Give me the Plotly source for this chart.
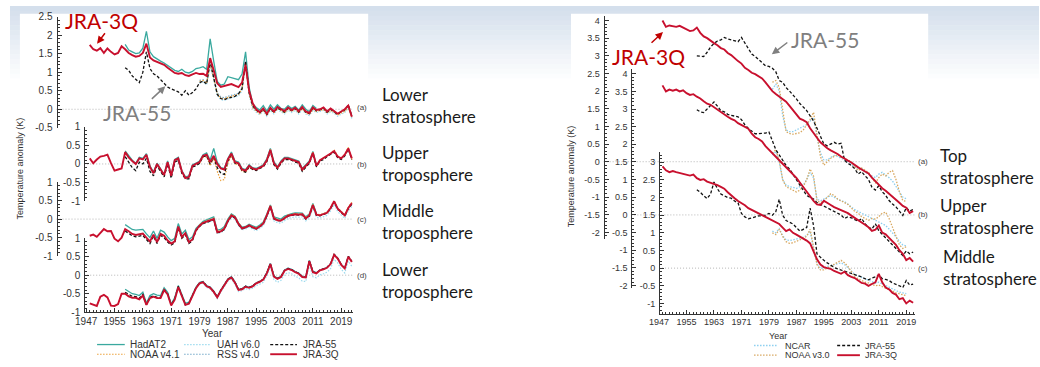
import plotly.graph_objects as go

W, H = 1040, 367
def px(x): return x / W
def py(y): return 1 - y / H

# ---------------- DATA (left figure: MSU-type layers) ----------------
# (a) Lower stratosphere
L_A_3Q_START = 1948
L_A_3Q = [1.74, 1.62, 1.58, 1.65, 1.52, 1.64, 1.55, 1.48, 1.52, 1.70, 1.62, 1.52, 1.46, 1.42, 1.44, 1.52, 1.77, 1.40, 1.32, 1.28,
          1.25, 1.20, 1.12, 1.05, 0.98, 0.96, 0.98, 0.92, 0.90, 0.94, 0.98, 0.95, 0.96, 0.90, 1.38, 1.05, 0.70, 0.60, 0.62, 0.64,
          0.68, 0.64, 0.60, 0.72, 1.20, 0.50, 0.16, 0.00, -0.08, 0.02, -0.12, 0.04, -0.06, 0.06, 0.00, -0.05, 0.05, -0.02, 0.04, -0.05,
          0.06, -0.06, -0.10, 0.05, -0.02, 0.00, 0.05, -0.06, 0.02, -0.04, -0.12, -0.06, 0.00, 0.10, -0.20]
L_A_55_START = 1958
L_A_55 = [1.12, 1.05, 0.90, 0.80, 0.72, 1.00, 1.55, 1.10, 0.96, 0.90, 0.80, 0.68, 0.60, 0.55, 0.51, 0.47, 0.38, 0.50, 0.38, 0.45,
          0.55, 0.72, 0.76, 0.68, 1.30, 0.80, 0.40, 0.29, 0.26, 0.30, 0.33, 0.35, 0.42, 0.55, 1.30, 0.45, 0.10, -0.02, -0.10, 0.00,
          -0.14, 0.02, -0.08, 0.04, -0.02, -0.08, 0.03, -0.04, 0.02, -0.08, 0.04, -0.08, -0.12, 0.03, -0.04, -0.02, 0.03, -0.08, 0.00, -0.06,
          -0.14, -0.06, -0.02, 0.12, -0.18]
L_A_HAD_START = 1958
L_A_HAD = [1.75, 1.60, 1.55, 1.50, 1.52, 1.65, 2.10, 1.55, 1.42, 1.35, 1.30, 1.25, 1.18, 1.12, 1.05, 1.02, 1.08, 1.00, 0.98, 1.02,
           1.10, 1.12, 1.15, 1.08, 1.90, 1.30, 0.75, 0.65, 0.68, 0.88, 0.85, 0.82, 0.80, 0.95, 1.55, 0.60, 0.15, 0.05, -0.02, 0.10,
           -0.05, 0.12, 0.00, 0.12, 0.02, 0.00, 0.10, 0.02, 0.08, -0.02, 0.12, 0.00, -0.06, 0.10, 0.02]
L_A_SAT_START = 1979
L_A_NOAA = [0.75, 0.78, 0.70, 1.20, 0.85, 0.42, 0.30, 0.28, 0.32, 0.35, 0.36, 0.40, 0.55, 1.25, 0.42, 0.05, -0.05, -0.12, -0.02, -0.16,
            0.00, -0.10, 0.02, -0.04, -0.10, 0.00, -0.06, 0.00, -0.10, 0.02, -0.10, -0.14, 0.00, -0.06, -0.04, 0.00, -0.10, -0.04, -0.08, -0.16,
            -0.10, -0.06, 0.06, -0.22]
L_A_UAH = [0.70, 0.74, 0.66, 1.15, 0.80, 0.38, 0.26, 0.24, 0.28, 0.31, 0.32, 0.36, 0.50, 1.20, 0.38, 0.02, -0.08, -0.15, -0.05, -0.19,
           -0.03, -0.13, -0.01, -0.07, -0.13, -0.03, -0.09, -0.03, -0.13, -0.01, -0.13, -0.17, -0.03, -0.09, -0.07, -0.03, -0.13, -0.07, -0.11, -0.19,
           -0.13, -0.09, 0.03, -0.25]
L_A_RSS = [0.78, 0.80, 0.72, 1.25, 0.88, 0.45, 0.33, 0.31, 0.35, 0.38, 0.39, 0.43, 0.58, 1.30, 0.46, 0.08, -0.02, -0.09, 0.01, -0.13,
           0.03, -0.07, 0.05, -0.01, -0.07, 0.03, -0.03, 0.03, -0.07, 0.05, -0.07, -0.11, 0.03, -0.03, -0.01, 0.03, -0.07, -0.01, -0.05, -0.13,
           -0.07, -0.03, 0.09, -0.19]

# (b) Upper troposphere
L_B_3Q = [0.15, 0.02, 0.12, 0.20, 0.22, 0.25, 0.02, -0.18, -0.15, -0.12, 0.32, 0.18, 0.08, 0.00, 0.15, 0.12, 0.25, -0.08, -0.25, 0.00,
          -0.15, -0.30, 0.05, -0.32, 0.10, 0.15, -0.20, -0.38, -0.35, -0.05, 0.00, 0.05, 0.22, 0.25, 0.05, 0.22, 0.00, -0.12, -0.15, 0.12,
          0.28, 0.05, 0.02, -0.15, -0.18, -0.05, -0.12, -0.15, -0.10, -0.05, 0.10, 0.38, 0.02, -0.10, 0.05, 0.15, 0.15, 0.12, 0.08, 0.05,
          -0.15, -0.05, 0.05, 0.30, -0.05, 0.10, 0.15, 0.22, 0.28, 0.35, 0.20, 0.15, 0.25, 0.42, 0.15]
L_B_55 = [0.20, 0.05, -0.10, -0.18, 0.05, 0.00, 0.15, -0.20, -0.32, -0.05, -0.22, -0.35, 0.00, -0.38, 0.05, 0.10, -0.25, -0.40, -0.40, -0.08,
          -0.05, 0.02, 0.20, 0.22, 0.00, 0.18, -0.10, -0.25, -0.28, 0.08, 0.25, 0.02, 0.00, -0.18, -0.22, -0.08, -0.15, -0.18, -0.12, -0.08,
          0.06, 0.35, -0.02, -0.14, 0.02, 0.12, 0.12, 0.10, 0.05, 0.02, -0.20, -0.08, 0.02, 0.28, -0.08, 0.08, 0.12, 0.20, 0.25, 0.32,
          0.17, 0.12, 0.22, 0.40, 0.12]
L_B_HAD = [0.35, 0.22, 0.10, 0.02, 0.18, 0.15, 0.28, -0.05, -0.22, 0.02, -0.12, -0.28, 0.08, -0.30, 0.12, 0.18, -0.18, -0.35, -0.32, -0.02,
           0.02, 0.08, 0.25, 0.30, 0.10, 0.42, 0.05, -0.10, -0.12, 0.15, 0.32, 0.08, 0.05, -0.12, -0.15, -0.02, -0.10, -0.12, -0.08, -0.02,
           0.14, 0.42, 0.06, -0.08, 0.08, 0.18, 0.18, 0.15, 0.10, 0.08, -0.12, -0.02, 0.08, 0.34, -0.02]
L_B_NOAA = [0.02, 0.18, 0.20, -0.05, 0.15, -0.20, -0.45, -0.42, 0.02, 0.22, 0.00, -0.02, -0.20, -0.22, -0.10, -0.15, -0.15, -0.12, -0.05, 0.10,
            0.40, 0.00, -0.12, 0.04, 0.14, 0.15, 0.12, 0.08, 0.05, -0.18, -0.05, 0.05, 0.32, -0.05, 0.10, 0.15, 0.22, 0.28, 0.38, 0.22,
            0.15, 0.26, 0.45, 0.12]

# (c) Middle troposphere
L_C_3Q = [-0.45, -0.42, -0.48, -0.36, -0.27, -0.33, -0.32, -0.53, -0.60, -0.50, -0.27, -0.33, -0.40, -0.43, -0.40, -0.39, -0.50, -0.60, -0.42, -0.62,
          -0.40, -0.45, -0.58, -0.66, -0.60, -0.20, -0.48, -0.38, -0.62, -0.55, -0.30, -0.18, -0.10, -0.06, -0.03, 0.00, -0.35, -0.33, -0.26, -0.05,
          0.10, 0.05, -0.13, -0.25, -0.22, -0.17, -0.22, -0.26, -0.20, -0.12, 0.10, 0.35, 0.02, -0.03, -0.04, 0.03, 0.09, 0.11, 0.13, 0.12,
          0.13, 0.02, 0.10, 0.38, 0.12, 0.10, 0.13, 0.17, 0.30, 0.48, 0.28, 0.20, 0.10, 0.30, 0.43]
L_C_55 = [-0.32, -0.38, -0.45, -0.48, -0.45, -0.44, -0.55, -0.66, -0.46, -0.66, -0.44, -0.50, -0.62, -0.70, -0.64, -0.24, -0.52, -0.42, -0.66, -0.58,
          -0.32, -0.20, -0.12, -0.08, -0.06, -0.02, -0.37, -0.35, -0.28, -0.06, 0.08, 0.03, -0.15, -0.26, -0.23, -0.18, -0.23, -0.27, -0.21, -0.13,
          0.08, 0.33, 0.00, -0.04, -0.05, 0.02, 0.08, 0.10, 0.12, 0.11, 0.12, 0.00, 0.08, 0.36, 0.10, 0.09, 0.12, 0.16, 0.28, 0.46,
          0.27, 0.19, 0.09, 0.28, 0.40]
L_C_HAD = [-0.15, -0.22, -0.28, -0.30, -0.28, -0.28, -0.40, -0.50, -0.32, -0.52, -0.30, -0.35, -0.48, -0.58, -0.52, -0.12, -0.40, -0.30, -0.55, -0.48,
           -0.25, -0.14, -0.06, -0.02, 0.02, 0.06, -0.30, -0.28, -0.20, 0.00, 0.14, 0.08, -0.10, -0.22, -0.20, -0.14, -0.18, -0.22, -0.16, -0.08,
           0.14, 0.38, 0.06, 0.02, 0.00, 0.08, 0.12, 0.15, 0.17, 0.16, 0.16, 0.06, 0.14, 0.42, 0.16]
L_C_NOAA = [-0.16, -0.08, -0.04, -0.02, 0.02, -0.33, -0.31, -0.24, -0.03, 0.12, 0.07, -0.11, -0.23, -0.22, -0.16, -0.21, -0.24, -0.18, -0.10, 0.12,
            0.37, 0.04, -0.01, -0.02, 0.05, 0.11, 0.13, 0.15, 0.14, 0.15, 0.04, 0.12, 0.40, 0.14, 0.12, 0.15, 0.19, 0.32, 0.50, 0.30,
            0.22, 0.12, 0.32, 0.45]
L_C_UAH = [-0.20, -0.13, -0.09, -0.07, -0.04, -0.38, -0.37, -0.30, -0.09, 0.05, 0.00, -0.18, -0.29, -0.27, -0.22, -0.27, -0.31, -0.25, -0.18, 0.04,
           0.28, -0.05, -0.10, -0.11, -0.04, 0.02, 0.04, 0.06, 0.05, 0.06, -0.05, 0.03, 0.31, 0.05, 0.03, 0.06, 0.10, 0.22, 0.40, 0.20,
           0.12, 0.02, 0.22, 0.34]
L_C_RSS = [-0.18, -0.11, -0.07, -0.04, -0.01, -0.36, -0.34, -0.27, -0.06, 0.09, 0.04, -0.14, -0.26, -0.24, -0.18, -0.23, -0.26, -0.20, -0.12, 0.10,
           0.34, 0.02, -0.02, -0.03, 0.04, 0.10, 0.12, 0.14, 0.13, 0.14, 0.03, 0.11, 0.39, 0.13, 0.11, 0.14, 0.18, 0.31, 0.49, 0.29,
           0.21, 0.11, 0.31, 0.44]

# (d) Lower troposphere
L_D_3Q = [-0.76, -0.80, -0.83, -0.58, -0.53, -0.60, -0.82, -0.83, -0.78, -0.50, -0.50, -0.57, -0.61, -0.61, -0.65, -0.55, -0.80, -0.62, -0.58, -0.62,
          -0.62, -0.40, -0.52, -0.82, -0.66, -0.32, -0.55, -0.80, -0.77, -0.56, -0.35, -0.22, -0.19, -0.30, -0.34, -0.45, -0.60, -0.42, -0.25, -0.12,
          -0.06, -0.20, -0.40, -0.38, -0.31, -0.34, -0.30, -0.22, -0.18, -0.12, 0.05, 0.30, -0.04, -0.10, -0.05, 0.12, 0.17, 0.14, 0.08, 0.04,
          -0.05, -0.06, 0.38, 0.08, 0.05, 0.13, 0.16, 0.20, 0.30, 0.55, 0.45, 0.28, 0.18, 0.50, 0.36]
L_D_55 = [-0.46, -0.52, -0.57, -0.58, -0.62, -0.52, -0.80, -0.60, -0.56, -0.60, -0.60, -0.38, -0.50, -0.80, -0.64, -0.30, -0.53, -0.80, -0.76, -0.55,
          -0.34, -0.21, -0.18, -0.29, -0.33, -0.44, -0.59, -0.41, -0.24, -0.11, -0.05, -0.19, -0.39, -0.37, -0.30, -0.33, -0.29, -0.21, -0.17, -0.11,
          0.06, 0.31, -0.03, -0.09, -0.04, 0.13, 0.18, 0.15, 0.09, 0.05, -0.04, -0.05, 0.39, 0.09, 0.06, 0.14, 0.17, 0.21, 0.31, 0.56,
          0.46, 0.29, 0.19, 0.51, 0.37]
L_D_HAD = [-0.38, -0.45, -0.50, -0.52, -0.55, -0.46, -0.75, -0.55, -0.50, -0.54, -0.55, -0.34, -0.46, -0.78, -0.60, -0.28, -0.50, -0.76, -0.73, -0.52,
           -0.32, -0.20, -0.17, -0.28, -0.32, -0.43, -0.58, -0.40, -0.23, -0.10, -0.04, -0.18, -0.38, -0.36, -0.30, -0.33, -0.29, -0.21, -0.17, -0.11,
           0.07, 0.32, -0.02, -0.08, -0.03, 0.14, 0.19, 0.16, 0.10, 0.06, -0.03, -0.04, 0.40, 0.10, 0.07]
L_D_UAH = [-0.24, -0.22, -0.33, -0.37, -0.48, -0.63, -0.46, -0.29, -0.16, -0.10, -0.25, -0.44, -0.42, -0.36, -0.39, -0.35, -0.28, -0.24, -0.19, -0.02,
           0.22, -0.12, -0.19, -0.14, 0.02, 0.07, 0.04, -0.03, -0.07, -0.16, -0.17, 0.27, -0.04, -0.07, 0.01, 0.04, 0.08, 0.18, 0.43, 0.33,
           0.16, 0.06, 0.38, 0.24]
L_D_RSS = [-0.20, -0.17, -0.28, -0.32, -0.43, -0.58, -0.40, -0.23, -0.10, -0.04, -0.18, -0.38, -0.36, -0.29, -0.32, -0.28, -0.20, -0.16, -0.10, 0.07,
           0.32, -0.02, -0.08, -0.03, 0.14, 0.19, 0.16, 0.10, 0.06, -0.03, -0.04, 0.40, 0.10, 0.07, 0.15, 0.18, 0.22, 0.32, 0.57, 0.47,
           0.30, 0.20, 0.52, 0.38]

# ---------------- DATA (right figure: SSU-type layers) ----------------
R_3Q_START, R_55_START, R_SSU_START = 1948, 1958, 1980
R_A_3Q = [4.00, 3.82, 3.86, 3.84, 3.82, 3.85, 3.80, 3.74, 3.70, 3.72, 3.80, 3.65, 3.55, 3.50, 3.42, 3.36, 3.30, 3.22, 3.18, 3.08,
          3.02, 2.92, 2.85, 2.78, 2.66, 2.60, 2.52, 2.48, 2.42, 2.36, 2.25, 2.13, 2.00, 1.92, 1.85, 1.78, 1.70, 1.58, 1.45, 1.32,
          1.22, 1.18, 1.12, 0.95, 0.80, 0.68, 0.55, 0.45, 0.38, 0.32, 0.28, 0.22, 0.15, 0.08, 0.03, -0.02, -0.10, -0.16, -0.22, -0.28,
          -0.33, -0.45, -0.55, -0.68, -0.75, -0.82, -0.90, -0.98, -1.06, -1.16, -1.25, -1.30, -1.45, -1.40]
R_A_55 = [3.00, 3.00, 2.98, 3.10, 3.25, 3.35, 3.42, 3.45, 3.52, 3.48, 3.45, 3.42, 3.40, 3.52, 3.35, 3.20, 3.05, 2.98, 2.90, 2.80,
          2.72, 2.70, 2.65, 2.55, 2.30, 2.25, 2.10, 2.00, 1.90, 1.78, 1.65, 1.55, 1.45, 1.30, 1.15, 0.95, 0.70, 0.50, 0.45, 0.50,
          0.55, 0.50, 0.52, 0.05, -0.05, -0.10, -0.20, -0.35, -0.28, -0.40, -0.50, -0.72, -0.80, -0.68, -0.85, -0.95, -1.10, -1.20, -1.28, -1.40,
          -1.52, -1.30, -1.40, -1.35]
R_A_NOAA = [2.25, 2.30, 2.10, 1.40, 0.85, 0.80, 0.78, 0.80, 0.82, 0.90, 1.05, 1.20, 1.40, 0.70, 0.15, -0.10, 0.00, 0.10, 0.15, 0.20,
            0.12, 0.10, 0.05, 0.00, -0.15, -0.25, -0.18, -0.25, -0.30, -0.45, -0.60, -0.45, -0.35, -0.40, -0.30, -0.25, -0.50, -0.85, -1.10, -1.12]
R_A_NCAR = [2.05, 2.20, 2.00, 1.30, 0.90, 0.85, 0.85, 0.90, 0.95, 1.00, 1.05, 1.15, 1.25, 0.70, 0.25, 0.05, 0.05, 0.12, 0.18, 0.15,
            0.10, 0.05, 0.00, -0.08, -0.15, -0.22, -0.18, -0.30, -0.35, -0.40, -0.45, -0.35, -0.30, -0.38, -0.45, -0.55, -0.70, -0.85, -1.00, -1.05]

R_B_3Q = [3.67, 3.50, 3.55, 3.52, 3.55, 3.50, 3.53, 3.45, 3.40, 3.42, 3.35, 3.30, 3.22, 3.15, 3.12, 3.05, 2.98, 2.90, 2.85, 2.78,
          2.72, 2.68, 2.60, 2.55, 2.50, 2.44, 2.30, 2.20, 2.15, 2.08, 1.95, 1.85, 1.78, 1.65, 1.55, 1.45, 1.35, 1.25, 1.18, 1.05,
          0.92, 0.79, 0.65, 0.52, 0.40, 0.30, 0.28, 0.40, 0.35, 0.28, 0.22, 0.18, 0.12, 0.10, 0.05, -0.02, -0.08, -0.15, -0.20, -0.28,
          -0.35, -0.45, -0.42, -0.30, -0.50, -0.55, -0.65, -0.74, -0.85, -1.00, -1.10, -1.28, -1.22, -1.32]
R_B_55 = [2.98, 2.92, 2.90, 3.00, 3.10, 3.20, 3.08, 2.95, 2.92, 2.85, 2.82, 2.80, 2.78, 2.70, 2.55, 2.45, 2.38, 2.30, 2.30, 2.30,
          2.32, 2.35, 2.10, 1.85, 1.70, 1.55, 1.40, 1.30, 1.15, 1.00, 0.85, 0.71, 0.55, 0.50, 0.45, 0.35, 0.30, 0.25, 0.20, 0.15,
          0.08, 0.05, 0.00, -0.10, -0.05, -0.08, -0.12, -0.18, -0.10, -0.25, -0.35, -0.40, -0.25, -0.45, -0.55, -0.65, -0.75, -0.85, -0.95, -1.05,
          -1.15, -1.02, -1.10, -1.05]
R_B_NOAA = [1.75, 1.85, 1.55, 1.00, 0.80, 0.75, 0.70, 0.65, 0.70, 0.80, 1.00, 1.30, 1.10, 0.40, 0.35, 0.40, 0.50, 0.60, 0.55, 0.45,
            0.40, 0.35, 0.30, 0.20, 0.10, 0.05, -0.05, -0.10, -0.15, -0.10, -0.12, -0.05, 0.05, 0.08, -0.10, -0.35, -0.58, -0.85, -0.95, -0.90]
R_B_NCAR = [1.70, 1.80, 1.50, 1.00, 0.85, 0.80, 0.78, 0.75, 0.80, 0.85, 1.00, 1.20, 1.05, 0.45, 0.40, 0.45, 0.50, 0.55, 0.50, 0.45,
            0.40, 0.38, 0.30, 0.22, 0.15, 0.10, 0.05, 0.00, -0.05, -0.10, -0.15, -0.20, -0.25, -0.30, -0.40, -0.50, -0.62, -0.75, -0.85, -0.88]

R_C_3Q = [2.88, 2.77, 2.72, 2.75, 2.72, 2.70, 2.68, 2.65, 2.62, 2.65, 2.55, 2.50, 2.52, 2.45, 2.42, 2.40, 2.35, 2.30, 2.25, 2.15,
          2.05, 1.98, 1.90, 1.85, 1.78, 1.70, 1.65, 1.62, 1.55, 1.50, 1.45, 1.40, 1.35, 1.30, 1.25, 1.15, 1.05, 1.10, 1.00, 0.95,
          0.90, 0.85, 0.78, 0.70, 0.45, 0.25, 0.10, 0.03, 0.00, -0.02, -0.08, -0.12, -0.16, -0.10, -0.20, -0.25, -0.28, -0.35, -0.42, -0.44,
          -0.50, -0.45, -0.40, -0.16, -0.40, -0.55, -0.60, -0.70, -0.75, -0.88, -0.85, -1.00, -0.92, -0.98]
R_C_55 = [2.22, 2.15, 2.05, 1.97, 2.10, 2.44, 2.25, 2.10, 2.05, 2.00, 1.98, 1.90, 1.85, 1.55, 1.45, 1.40, 1.42, 1.45, 1.48, 1.48,
          1.50, 1.55, 1.50, 1.60, 1.95, 1.50, 1.35, 1.30, 1.25, 1.15, 1.05, 1.10, 1.15, 1.70, 1.20, 0.40, 0.30, 0.22, 0.15, 0.08,
          0.02, -0.02, -0.05, -0.10, -0.12, -0.15, -0.18, -0.22, -0.25, -0.30, -0.33, -0.28, -0.25, -0.19, -0.30, -0.32, -0.35, -0.42, -0.45, -0.50,
          -0.55, -0.35, -0.48, -0.45]
R_C_NOAA = [1.00, 0.95, 1.10, 0.90, 0.75, 0.70, 0.72, 0.75, 0.80, 0.85, 0.90, 1.10, 0.60, 0.10, -0.05, -0.05, 0.00, 0.05, 0.10, 0.15,
            0.22, 0.15, 0.05, -0.10, -0.25, -0.30, -0.35, -0.40, -0.42, -0.45, -0.50, -0.48, -0.52, -0.55, -0.60, -0.65, -0.70, -0.72, -0.75, -0.78]
R_C_NCAR = [1.05, 1.00, 1.12, 0.92, 0.80, 0.78, 0.80, 0.82, 0.85, 0.88, 0.92, 1.05, 0.55, 0.12, 0.00, 0.00, 0.05, 0.08, 0.10, 0.12,
            0.15, 0.10, 0.02, -0.08, -0.18, -0.22, -0.28, -0.32, -0.35, -0.38, -0.42, -0.40, -0.45, -0.50, -0.55, -0.60, -0.65, -0.68, -0.70, -0.72]

X_TICKS = [1947, 1955, 1963, 1971, 1979, 1987, 1995, 2003, 2011, 2019]
LEFT_LEGEND = [("HadAT2", "NOAA v4.1"), ("UAH v6.0", "RSS v4.0"), ("JRA-55", "JRA-3Q")]
RIGHT_LEGEND = [("NCAR", "NOAA v3.0"), ("JRA-55", "JRA-3Q")]
LEFT_LAYERS = ["Lower<br>stratosphere", "Upper<br>troposphere", "Middle<br>troposphere", "Lower<br>troposphere"]
RIGHT_LAYERS = ["Top<br>stratosphere", "Upper<br>stratosphere", "Middle<br>stratosphere"]

# ---------------- STYLE ----------------
C_HAD = "#3aa99f"
C_NOAA4 = "#eba13a"
C_UAH = "#9fdcef"
C_RSS = "#74a9c9"
C_J55 = "#111111"
C_J3Q = "#c8102e"
C_NCAR = "#8ccff0"
C_NOAA3 = "#d8a860"
TXT = "#333333"
FONT = "Liberation Sans, Arial, sans-serif"
SLIDE = "Lato, 'Open Sans', sans-serif"

STY = {
    "had": dict(color=C_HAD, width=1.3),
    "noaa4": dict(color=C_NOAA4, width=1.2, dash="1.5px,1.5px"),
    "uah": dict(color=C_UAH, width=1.2, dash="1.5px,1.5px"),
    "rss": dict(color=C_RSS, width=1.2, dash="1.5px,1.5px"),
    "j55": dict(color=C_J55, width=1.3, dash="3px,2px"),
    "j3q": dict(color=C_J3Q, width=1.9),
    "ncar": dict(color=C_NCAR, width=1.3, dash="1.5px,1.5px"),
    "noaa3": dict(color=C_NOAA3, width=1.3, dash="1.5px,1.5px"),
}

fig = go.Figure()

def add(start, vals, xa, ya, sty):
    fig.add_trace(go.Scatter(x=list(range(start, start + len(vals))), y=vals, xaxis=xa, yaxis=ya,
                             mode="lines", line=STY[sty], showlegend=False, hoverinfo="skip"))

# left panels
add(L_A_HAD_START, L_A_HAD, "x", "y", "had")
add(L_A_SAT_START, L_A_UAH, "x", "y", "uah")
add(L_A_SAT_START, L_A_RSS, "x", "y", "rss")
add(L_A_SAT_START, L_A_NOAA, "x", "y", "noaa4")
add(L_A_55_START, L_A_55, "x", "y", "j55")
add(L_A_3Q_START, L_A_3Q, "x", "y", "j3q")

add(1958, L_B_HAD, "x", "y2", "had")
add(1979, L_B_NOAA, "x", "y2", "noaa4")
add(1958, L_B_55, "x", "y2", "j55")
add(1948, L_B_3Q, "x", "y2", "j3q")

add(1958, L_C_HAD, "x", "y3", "had")
add(1979, L_C_UAH, "x", "y3", "uah")
add(1979, L_C_RSS, "x", "y3", "rss")
add(1979, L_C_NOAA, "x", "y3", "noaa4")
add(1958, L_C_55, "x", "y3", "j55")
add(1948, L_C_3Q, "x", "y3", "j3q")

add(1958, L_D_HAD, "x", "y4", "had")
add(1979, L_D_UAH, "x", "y4", "uah")
add(1979, L_D_RSS, "x", "y4", "rss")
add(1958, L_D_55, "x", "y4", "j55")
add(1948, L_D_3Q, "x", "y4", "j3q")

# right panels
for ya, noaa, ncar, j55, j3q in [("y5", R_A_NOAA, R_A_NCAR, R_A_55, R_A_3Q),
                                 ("y6", R_B_NOAA, R_B_NCAR, R_B_55, R_B_3Q),
                                 ("y7", R_C_NOAA, R_C_NCAR, R_C_55, R_C_3Q)]:
    add(R_SSU_START, ncar, "x2", ya, "ncar")
    add(R_SSU_START, noaa, "x2", ya, "noaa3")
    add(R_55_START, j55, "x2", ya, "j55")
    add(R_3Q_START, j3q, "x2", ya, "j3q")

# ---------------- AXES ----------------
def fmt(v):
    return "%g" % round(v, 2)

def yax(pos_px, top_px, bot_px, lo, hi, tick_lo, tick_hi, size):
    n = int(round((tick_hi - tick_lo) / 0.5))
    tv = [round(tick_lo + 0.5 * i, 2) for i in range(n + 1)]
    return dict(domain=[py(bot_px), py(top_px)], range=[lo, hi], anchor="free", position=px(pos_px),
                showline=True, linecolor=TXT, linewidth=1, ticks="inside", ticklen=4, tickcolor=TXT,
                tickvals=tv, ticktext=[fmt(v) for v in tv], tickfont=dict(family=FONT, size=size, color=TXT),
                minor=dict(ticks="inside", ticklen=2, dtick=0.1, tick0=0, tickcolor=TXT),
                showgrid=False, zeroline=False, fixedrange=True, ticklabelstandoff=2)

# left: 38.3 px per K
LK = 38.3
ax_a = yax(47, 11, 11 + 3.0 * LK, -0.5, 2.5, -0.5, 2.5, 10)
ax_b = yax(75, 125, 125 + 2 * LK, -1, 1, -1, 1, 10)
ax_c = yax(47, 182, 182 + 2 * LK, -1, 1, -1, 1, 10)
ax_d = yax(75, 240, 240 + 2 * LK, -1, 1, -1, 1, 10)

# right: 36.5 px per K
RK = 36.5
def rax(pos, zero_py, lo, hi, tlo, thi):
    return yax(pos, zero_py - hi * RK, zero_py - lo * RK, lo, hi, tlo, thi, 9)
ax_ra = rax(600, 161, -2.2, 4.12, -2, 4)
ax_rb = rax(628, 216, -2.08, 4.12, -2, 4)
ax_rc = rax(656, 271, -1.29, 3.3, -1, 3)

L_X0, L_X1, L_1947, L_PPY = 75, 347, 77, 3.58
R_X0, R_X1, R_1947, R_PPY = 656, 915, 656, 3.47

def xax(x0, x1, p1947, ppy, anchor, size):
    return dict(domain=[px(x0), px(x1)],
                range=[1947 - (p1947 - x0) / ppy, 1947 + (x1 - p1947) / ppy],
                anchor=anchor, showline=True, linecolor=TXT, linewidth=1, ticks="inside", ticklen=4,
                tickcolor=TXT, tickvals=X_TICKS, ticktext=[str(t) for t in X_TICKS],
                tickfont=dict(family=FONT, size=size, color=TXT),
                minor=dict(ticks="inside", ticklen=2, dtick=1, tick0=1947, tickcolor=TXT),
                showgrid=False, zeroline=False, fixedrange=True)

layout = dict(
    width=W, height=H, margin=dict(l=0, r=0, t=0, b=0),
    paper_bgcolor="white", plot_bgcolor="rgba(0,0,0,0)", showlegend=False,
    xaxis=xax(L_X0, L_X1, L_1947, L_PPY, "y4", 10),
    xaxis2=xax(R_X0, R_X1, R_1947, R_PPY, "y7", 9),
    yaxis=ax_a, yaxis2=ax_b, yaxis3=ax_c, yaxis4=ax_d,
    yaxis5=ax_ra, yaxis6=ax_rb, yaxis7=ax_rc,
)
fig.update_layout(**layout)

# ---------------- BACKGROUND SHAPES ----------------
shapes = []
top_rgb, n_bands, band_h = (212, 223, 236), 16, 5
for i in range(n_bands):
    f = i / (n_bands - 1)
    c = tuple(int(round(top_rgb[k] + (255 - top_rgb[k]) * f)) for k in range(3))
    shapes.append(dict(type="rect", xref="paper", yref="paper", x0=0, x1=1,
                       y0=py(i * band_h + band_h + 0.5), y1=py(i * band_h), fillcolor="rgb(%d,%d,%d)" % c,
                       line=dict(width=0), layer="below"))
for x0, x1 in [(10, 362), (567, 928)]:
    shapes.append(dict(type="rect", xref="paper", yref="paper", x0=px(x0), x1=px(x1), y0=0, y1=py(8),
                       fillcolor="white", line=dict(width=0), layer="below"))

# dotted zero lines
for yref, x0, x1 in [("y", 47, 347), ("y2", 75, 347), ("y3", 47, 347), ("y4", 75, 347),
                     ("y5", 600, 915), ("y6", 628, 915), ("y7", 656, 915)]:
    shapes.append(dict(type="line", xref="paper", yref=yref, x0=px(x0), x1=px(x1), y0=0, y1=0,
                       line=dict(color="#b5b5b5", width=1, dash="1px,2px"), layer="below"))

# legends
def leg_line(x0, x1, ypx, sty):
    s = STY[sty]
    shapes.append(dict(type="line", xref="paper", yref="paper", x0=px(x0), x1=px(x1), y0=py(ypx), y1=py(ypx),
                       line=dict(color=s["color"], width=s["width"], dash=s.get("dash", "solid"))))

left_leg_styles = [("had", "noaa4"), ("uah", "rss"), ("j55", "j3q")]
left_cols = [(88, 116, 119), (176, 203, 207), (263, 290, 294)]
right_leg_styles = [("ncar", "noaa3"), ("j55", "j3q")]
right_cols = [(752, 775, 781), (836, 859, 862)]

annotations = []
def txt(x, y, s, size=10, color=TXT, family=FONT, xanchor="left", yanchor="middle", angle=0, align="left"):
    annotations.append(dict(xref="paper", yref="paper", x=px(x), y=py(y), text=s, showarrow=False,
                            font=dict(family=family, size=size, color=color), xanchor=xanchor,
                            yanchor=yanchor, textangle=angle, align=align))

for (n1, n2), (s1, s2), (a, b, t) in zip(LEFT_LEGEND, left_leg_styles, left_cols):
    leg_line(a, b, 350, s1); leg_line(a, b, 360, s2)
    txt(t, 350, n1, 10); txt(t, 360, n2, 10)
for (n1, n2), (s1, s2), (a, b, t) in zip(RIGHT_LEGEND, right_leg_styles, right_cols):
    leg_line(a, b, 351, s1); leg_line(a, b, 361, s2)
    txt(t, 351, n1, 9); txt(t, 361, n2, 9)

fig.update_layout(shapes=shapes)

# axis titles
txt(205, 339, "Year", 10, xanchor="center")
txt(776, 341, "Year", 9, xanchor="center")
txt(10, 168, "Temperature anomaly (K)", 9, xanchor="center", angle=-90)
txt(567, 176, "Temperature anomaly (K)", 9, xanchor="center", angle=-90)

# panel tags
for lab, y in [("(a)", 105), ("(b)", 164), ("(c)", 221), ("(d)", 279)]:
    txt(349, y, lab, 8, color="#444444")
for lab, y in [("(a)", 161), ("(b)", 216), ("(c)", 271)]:
    txt(916, y, lab, 8, color="#444444")

# layer names
for lab, y in zip(LEFT_LAYERS, [103, 163, 223, 284]):
    txt(374, y, lab, 17, color="#1a1a1a", family=SLIDE)
for lab, (x, y) in zip(RIGHT_LAYERS, [(938, 166), (938, 218), (941, 270)]):
    txt(x, y, lab, 17, color="#1a1a1a", family=SLIDE)

# callouts
txt(92, 15, "JRA-3Q", 21, color="#c00000", family=SLIDE, xanchor="center")
txt(128, 110, "JRA-55", 21, color="#7f7f7f", family=SLIDE, xanchor="center")
txt(645, 52, "JRA-3Q", 21, color="#c00000", family=SLIDE, xanchor="center")
txt(824, 35, "JRA-55", 21, color="#7f7f7f", family=SLIDE, xanchor="center")

def arrow(hx, hy, tx, ty, color):
    annotations.append(dict(xref="paper", yref="paper", x=px(hx), y=py(hy), ax=tx - hx, ay=ty - hy,
                            text="", showarrow=True, arrowhead=2, arrowsize=1, arrowwidth=1.5,
                            arrowcolor=color, standoff=0, startstandoff=0))
arrow(88, 39, 97, 27, "#c00000")
arrow(157, 83, 142, 97, "#808080")
arrow(660, 27, 647, 39, "#c00000")
arrow(770, 50, 787, 37, "#808080")

fig.update_layout(annotations=annotations)
fig.write_html("out.html")
